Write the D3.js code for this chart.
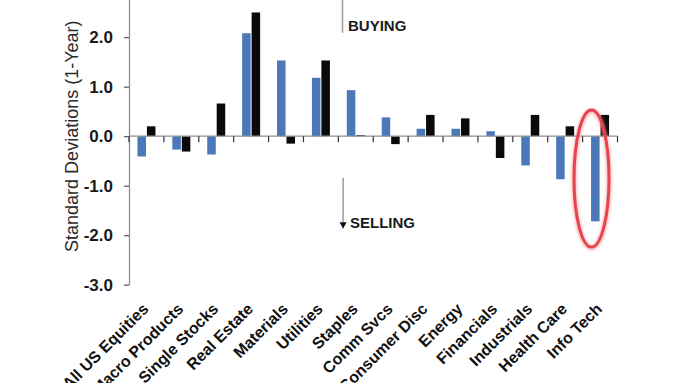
<!DOCTYPE html>
<html>
<head>
<meta charset="utf-8">
<script src="https://cdn.jsdelivr.net/npm/d3@7"></script>
<style>
  html, body { margin: 0; padding: 0; background: #fff; }
  svg { display: block; }
</style>
</head>
<body>
<script>
const categories = ["All US Equities","Macro Products","Single Stocks","Real Estate","Materials","Utilities","Staples","Comm Svcs","Consumer Disc","Energy","Financials","Industrials","Health Care","Info Tech"];
const blueValues  = [-0.41,-0.27,-0.37,2.08,1.53,1.18,0.93,0.38,0.15,0.15,0.10,-0.59,-0.87,-1.72];
const blackValues = [0.20,-0.31,0.66,2.50,-0.15,1.53,0.02,-0.16,0.43,0.36,-0.44,0.43,0.20,0.43];
const seriesNames = ["blue","black"];
const seriesColors = ["#4a78b8","#0a0a0a"];
const yTicks = [-3,-2,-1,0,1,2];
const yTickLabels = ["-3.0","-2.0","-1.0","0.0","1.0","2.0"];
const yTitle = "Standard Deviations (1-Year)";
const highlightCategory = "Info Tech";
const highlightRange = [0.53, -2.24];

const W = 680, H = 383;
const left = 129, right = 617.5;
const svg = d3.select("body").append("svg").attr("width", W).attr("height", H);
svg.append("rect").attr("width", W).attr("height", H).attr("fill", "#fff");

const y = d3.scaleLinear().domain([-3, 3]).range([284.7, -12.3]);
const pIn = 0.484;
const x0 = d3.scaleBand().domain(categories).range([left, right]).paddingInner(pIn).paddingOuter(pIn/2);
const x1 = d3.scaleBand().domain(seriesNames).range([0, x0.bandwidth()]).paddingInner(0.1);
const color = d3.scaleOrdinal().domain(seriesNames).range(seriesColors);

const rows = categories.map((c, i) => ({cat: c, vals: [
  {s: "blue", v: blueValues[i]}, {s: "black", v: blackValues[i]}]}));

const axisColor = "#8f8f8f";
const font = "'Liberation Sans', Arial, Helvetica, sans-serif";

// bars
const g = svg.append("g");
g.selectAll("g.cat").data(rows).join("g").attr("class","cat")
  .attr("transform", d => `translate(${x0(d.cat)},0)`)
  .selectAll("rect").data(d => d.vals).join("rect")
  .attr("x", d => x1(d.s))
  .attr("width", x1.bandwidth())
  .attr("y", d => y(Math.max(0, d.v)))
  .attr("height", d => Math.abs(y(d.v) - y(0)))
  .attr("fill", d => color(d.s));

// y axis
const yAxis = d3.axisLeft(y).tickValues(yTicks).tickSize(5).tickSizeOuter(0).tickPadding(11)
  .tickFormat((d, i) => yTickLabels[i]);
const ya = svg.append("g").attr("transform", `translate(${left},0)`).call(yAxis);
ya.select(".domain").attr("stroke", axisColor).attr("stroke-width", 1.3);
ya.selectAll(".tick line").attr("stroke", "#555").attr("stroke-width", 1.2);
ya.selectAll(".tick text").attr("font-family", font).attr("font-size", 17).attr("font-weight", "bold").attr("fill", "#1a1a1a");

// x axis at zero
const step = x0.step();
const boundaries = categories.map(c => x0(c) - (step - x0.bandwidth())/2).concat([right]);
svg.append("line").attr("x1", left).attr("x2", right).attr("y1", y(0)).attr("y2", y(0))
  .attr("stroke", axisColor).attr("stroke-width", 1.3);
svg.selectAll("line.xt").data(boundaries).join("line").attr("class","xt")
  .attr("x1", d => d).attr("x2", d => d).attr("y1", y(0)).attr("y2", y(0) + 6)
  .attr("stroke", "#333").attr("stroke-width", 1.2);

// x labels
svg.selectAll("text.xl").data(categories).join("text").attr("class","xl")
  .attr("transform", c => `translate(${x0(c) + x0.bandwidth()/2 + 3},310) rotate(-45)`)
  .attr("text-anchor", "end")
  .attr("font-family", font).attr("font-size", 16).attr("font-weight", "bold").attr("fill", "#111")
  .text(c => c);

// y title
svg.append("text")
  .attr("transform", `translate(77.5,${y(0)}) rotate(-90)`)
  .attr("text-anchor", "middle")
  .attr("font-family", font).attr("font-size", 18).attr("fill", "#2a2a2a")
  .text(yTitle);

// annotations
const annoX = x0("Staples") - 4.3;
svg.append("line").attr("x1", annoX).attr("x2", annoX).attr("y1", 0).attr("y2", y(2.09))
  .attr("stroke", "#9a9a9a").attr("stroke-width", 1.5);
svg.append("text").attr("x", annoX + 5.5).attr("y", y(2.12))
  .attr("font-family", font).attr("font-size", 15).attr("font-weight", "bold").attr("fill", "#1a1a1a")
  .text("BUYING");
svg.append("line").attr("x1", annoX + 0.6).attr("x2", annoX + 0.6).attr("y1", y(-0.84)).attr("y2", y(-1.76))
  .attr("stroke", "#9a9a9a").attr("stroke-width", 1.5);
svg.append("path")
  .attr("d", `M${annoX + 0.6 - 3.5},${y(-1.74)} L${annoX + 0.6 + 3.5},${y(-1.74)} L${annoX + 0.6},${y(-1.87)} Z`)
  .attr("fill", "#111");
svg.append("text").attr("x", annoX + 7.5).attr("y", y(-1.85))
  .attr("font-family", font).attr("font-size", 15).attr("font-weight", "bold").attr("fill", "#1a1a1a")
  .text("SELLING");

// highlight ellipse
const defs = svg.append("defs");
defs.append("filter").attr("id", "glow").attr("x", "-50%").attr("y", "-50%").attr("width", "200%").attr("height", "200%")
  .append("feGaussianBlur").attr("stdDeviation", 1.8);
const ecx = x0(highlightCategory) + x1("blue") + x1.bandwidth()/2 - 3.8;
const ecy = (y(highlightRange[0]) + y(highlightRange[1])) / 2;
const ery = (y(highlightRange[1]) - y(highlightRange[0])) / 2;
svg.append("ellipse").attr("cx", ecx).attr("cy", ecy + 1).attr("rx", 17.5).attr("ry", ery)
  .attr("fill", "none").attr("stroke", "#f08a8a").attr("stroke-width", 5).attr("opacity", 0.6)
  .attr("filter", "url(#glow)");
svg.append("ellipse").attr("cx", ecx).attr("cy", ecy).attr("rx", 17.5).attr("ry", ery)
  .attr("fill", "none").attr("stroke", "#e8434a").attr("stroke-width", 3);
</script>
</body>
</html>
